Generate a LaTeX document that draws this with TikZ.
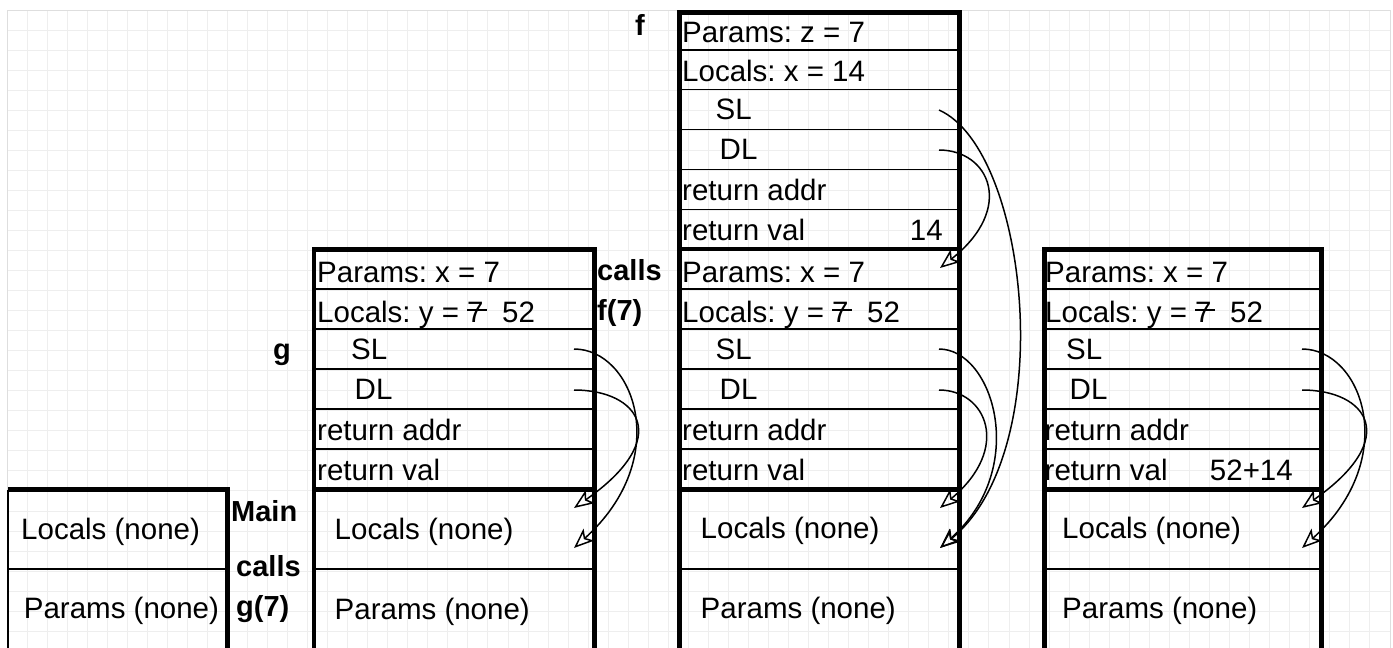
\documentclass[tikz,border=0pt]{standalone}
\usepackage{fontspec}
\setmainfont{Liberation Sans}
\usetikzlibrary{arrows.meta,calc}
\frenchspacing
\definecolor{gridc}{RGB}{238,238,238}
\definecolor{gridb}{RGB}{222,222,222}
\newcommand\strikeseven{\makebox[0pt][l]{\rule[0.38em]{0.66em}{0.07em}}7}
\tikzset{
  txt/.style={inner sep=0pt, anchor=base west, font=\fontsize{29.5pt}{34pt}\selectfont\frenchspacing},
  txtr/.style={inner sep=0pt, anchor=base east, font=\fontsize{29.5pt}{34pt}\selectfont\frenchspacing},
  lbl/.style={inner sep=0pt, anchor=base west, font=\fontsize{29pt}{34pt}\selectfont\bfseries},
  rowline/.style={line width=1.5pt},
  frameline/.style={line width=4.5pt},
  link/.style={line width=1.5pt, -{Stealth[open, length=20pt, width=16pt, inset=5pt]}},
  gridline/.style={draw=gridc, line width=1pt},
}
\begin{document}
\begin{tikzpicture}[x=1pt,y=-1pt]
\useasboundingbox (0,0) rectangle (1393,648);
\fill[white] (0,0) rectangle (1393,648);
% grid
\foreach \i in {1,...,68} \draw[gridline] ({7+20.04*\i},10) -- ({7+20.04*\i},648);
\foreach \j in {1,...,31} \draw[gridline] (7,{10+20.04*\j}) -- (1390,{10+20.04*\j});
\draw[draw=gridb, line width=1pt] (7,648) -- (7,10) -- (1390,10) -- (1390,648);

% ---------- Main alone (left) ----------
\draw[rowline] (8,569) -- (227.5,569);
\draw[rowline] (8,489.5) -- (8,650);
\draw[frameline] (8,489.5) -- (227.5,489.5) -- (227.5,650) -- (8,650);
\node[txt] (m0L) at (21,539) {Locals (none)};
\node[txt] (m0P) at (23.7,618) {Params (none)};
\node[lbl] (mainlbl) at (231,521.7) {Main};
\node[lbl] (calls1) at (236,576.7) {calls};
\node[lbl] (g7) at (236,616.7) {g(7)};

% ---------- g stack ----------
\foreach \y in {289,329,369,409,449,569} \draw[rowline] (314,\y) -- (594.5,\y);
\draw[frameline] (314,489.5) -- (594.5,489.5);
\draw[frameline] (314,249.5) rectangle (594.5,650);
\node[txt] (gP) at (317,282.5) {Params: x = 7};
\node[txt] (gL) at (317,322) {Locals: y = \strikeseven\hspace{0.63em}52};
\node[txt] (gSL) at (351,359.5) {SL};
\node[txt] (gDL) at (354.5,399.5) {DL};
\node[txt] (gRA) at (317,440.5) {return addr};
\node[txt] (gRV) at (317,480) {return val};
\node[txt] (gML) at (334.5,539) {Locals (none)};
\node[txt] (gMP) at (334.5,619) {Params (none)};
\node[lbl] (glbl) at (273,359) {g};
\node[lbl] (calls2) at (597,280.7) {calls};
\node[lbl] (f7) at (597,320) {f(7)};

% ---------- middle stack ----------
\foreach \y in {50,89.5,129.5,169.5,209.5,289,329,369,409,449,569} \draw[rowline] (679.5,\y) -- (959.5,\y);
\draw[frameline] (679.5,249) -- (959.5,249);
\draw[frameline] (679.5,489.5) -- (959.5,489.5);
\draw[frameline] (679.5,12.3) rectangle (959.5,650);
\node[txt] (fP) at (682,42.5) {Params: z = 7};
\node[txt] (fL) at (682,81.5) {Locals: x = 14};
\node[txt] (fSL) at (715.5,119.5) {SL};
\node[txt] (fDL) at (719.5,159.5) {DL};
\node[txt] (fRA) at (682,200) {return addr};
\node[txt] (fRV) at (682,240) {return val};
\node[txtr] (fval) at (943,240) {14};
\node[lbl] (flbl) at (635,35) {f};
\node[txt] (mgP) at (682,282) {Params: x = 7};
\node[txt] (mgL) at (682,322) {Locals: y = \strikeseven\hspace{0.63em}52};
\node[txt] (mgSL) at (715.5,359.5) {SL};
\node[txt] (mgDL) at (719.5,399.5) {DL};
\node[txt] (mgRA) at (682,440.5) {return addr};
\node[txt] (mgRV) at (682,480) {return val};
\node[txt] (mML) at (700.5,538.5) {Locals (none)};
\node[txt] (mMP) at (700.5,618.5) {Params (none)};

% ---------- right stack ----------
\foreach \y in {289,329,369,409,449,569} \draw[rowline] (1044.7,\y) -- (1321.5,\y);
\draw[frameline] (1044.7,489.5) -- (1321.5,489.5);
\draw[frameline] (1044.7,249.5) rectangle (1321.5,650);
\node[txt] (rP) at (1045,282.5) {Params: x = 7};
\node[txt] (rL) at (1045,322) {Locals: y = \strikeseven\hspace{0.63em}52};
\node[txt] (rSL) at (1066,359.5) {SL};
\node[txt] (rDL) at (1069.5,399.5) {DL};
\node[txt] (rRA) at (1044.5,440.5) {return addr};
\node[txt] (rRV) at (1044.5,480) {return val};
\node[txtr] (rval) at (1293,480) {52+14};
\node[txt] (rML) at (1062,538.5) {Locals (none)};
\node[txt] (rMP) at (1062,618.5) {Params (none)};

% ---------- link coordinates ----------
\coordinate (gSLs) at (574,349);
\coordinate (gDLs) at (574,390);
\coordinate (gT1) at (574,508);
\coordinate (gT2) at (574,548);
\coordinate (fSLs) at (939,110);
\coordinate (fDLs) at (939,150);
\coordinate (fDLt) at (940,268);
\coordinate (mSLs) at (939,349);
\coordinate (mDLs) at (939,390);
\coordinate (mT1) at (940,508);
\coordinate (mT2) at (940,548);
\coordinate (rSLs) at (1302,349);
\coordinate (rDLs) at (1302,390);
\coordinate (rT1) at (1302,508);
\coordinate (rT2) at (1302,548);

% ---------- links ----------
\draw[link] (gSLs) .. controls ($(gSLs)+(60,0)$) and ($(gT2)+(100,-90)$) .. (gT2);
\draw[link] (gDLs) .. controls ($(gDLs)+(65,0)$) and ($(gT1)+(100,-70)$) .. (gT1);
\draw[link] (fSLs) .. controls ($(fSLs)+(90,40)$) and ($(mT2)+(120,-98)$) .. (mT2);
\draw[link] (fDLs) .. controls ($(fDLs)+(50,0)$) and ($(fDLt)+(76,-60)$) .. (fDLt);
\draw[link] (mSLs) .. controls ($(mSLs)+(54,0)$) and ($(mT2)+(90,-80)$) .. (mT2);
\draw[link] (mDLs) .. controls ($(mDLs)+(47,0)$) and ($(mT1)+(72,-60)$) .. (mT1);
\draw[link] (rSLs) .. controls ($(rSLs)+(60,0)$) and ($(rT2)+(100,-90)$) .. (rT2);
\draw[link] (rDLs) .. controls ($(rDLs)+(65,0)$) and ($(rT1)+(100,-70)$) .. (rT1);
\end{tikzpicture}
\end{document}
